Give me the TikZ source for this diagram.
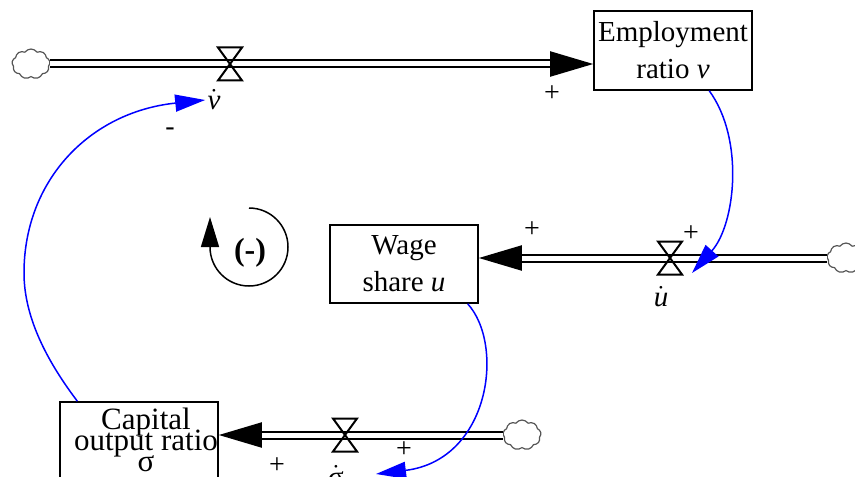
\documentclass[tikz,border=0pt]{standalone}
\usepackage{amsmath}
\usepackage{fontspec}
\setmainfont{Liberation Serif}
\usetikzlibrary{arrows.meta,shapes.symbols}

\definecolor{linkblue}{HTML}{0000FF}
\definecolor{cloudgray}{HTML}{555555}

\newcommand\tightfont{\fontsize{15.5}{10.5}\selectfont\lineskiplimit-20pt\relax\lineskip0pt\relax}

\tikzset{
  valve/.pic={\draw[line width=1pt] (-12,-16.5) -- (12,-16.5) -- (-12,16.5) -- (12,16.5) -- cycle;}
}

\begin{document}
\begin{tikzpicture}[x=0.5pt, y=-0.5pt,
  stock/.style={rectangle, draw, line width=0.8pt, align=center, font=\fontsize{14.5}{18.5}\selectfont, inner sep=0pt},
  source/.style={cloud, cloud puffs=9, cloud puff arc=110, aspect=1.2, draw=cloudgray, line width=0.6pt, minimum width=19pt, minimum height=15pt, inner sep=0pt},
  pipe/.style={double, double distance=2.5pt, line width=1pt, shorten >=21.5pt},
  flowtip/.style={line width=1pt, -{Triangle[length=21.5pt, width=12.5pt]}},
  link/.style={linkblue, line width=0.75pt, -{Triangle[length=15pt, width=8.5pt]}},
  rate/.style={font=\fontsize{14.5}{17}\selectfont, inner sep=1pt},
  sign/.style={font=\fontsize{14}{16}\selectfont, inner sep=0pt}
]
  \useasboundingbox (0,0) rectangle (855,476);
  \clip (0,0) rectangle (855,476);

  % stocks
  \node[stock, minimum width=79pt, minimum height=39.5pt] (emp) at (673,50.5) {Employment\\ratio \textit{v}};
  \node[stock, minimum width=74pt, minimum height=39pt] (wage) at (404,264) {Wage\\share \textit{u}};
  \node[stock, minimum width=79pt, minimum height=44pt] (cap) at (139,446) {};
  \node[font=\tightfont, align=center, inner sep=0pt] (captext) at (146,440) {Capital\\output ratio\\σ};

  % sources
  \node[source] (cloudL) at (31,64) {};
  \node[source] (cloudR) at (846,258) {};
  \node[source] (cloudB) at (522,435) {};

  % flows
  \draw[flowtip] (cloudL.east) -- (cloudL.east -| emp.west);
  \draw[pipe] (cloudL.east) -- (cloudL.east -| emp.west);
  \draw[flowtip] (cloudR.west) -- (cloudR.west -| wage.east);
  \draw[pipe] (cloudR.west) -- (cloudR.west -| wage.east);
  \draw[flowtip] (cloudB.west) -- (cloudB.west -| cap.east);
  \draw[pipe] (cloudB.west) -- (cloudB.west -| cap.east);

  \pic at (230,64) {valve};
  \pic at (670,258) {valve};
  \pic at (345,435) {valve};

  \node[rate] (vdot) at (214,100) {$\dot{\textit{v}}$};
  \node[rate] (udot) at (661,297) {$\dot{\textit{u}}$};
  \node[rate] (sdot) at (336,476) {$\dot{\text{σ}}$};

  % polarities
  \node[sign] (s1) at (552,94) {+};
  \node[sign] (s2) at (170,132) {-};
  \node[sign] (s3) at (532,230) {+};
  \node[sign] (s4) at (691,234) {+};
  \node[sign] (s5) at (404,450) {+};
  \node[sign] (s6) at (277,466) {+};

  % links
  \coordinate (uin) at (692,273);
  \coordinate (sin) at (376,474);
  \coordinate (lbend) at (24,273);
  \draw[link] (emp.-48) .. controls (745,140) and (735,225) .. (uin);
  \draw[link] (wage.-32) .. controls (505,345) and (490,460) .. (sin);
  \draw[link] (cap.144) .. controls (50,365) and (24,320) .. (lbend) .. controls (24,180) and (90,112) .. (vdot.west);

  % loop
  \coordinate (loopc) at (249,247);
  \node[font=\bfseries\fontsize{16}{18}\selectfont, inner sep=0pt] (loop) at (250,253) {(-)};
  \draw[line width=0.75pt, -{Triangle[length=15pt, width=9pt]}] (loopc) ++(0,-39) arc[start angle=90, end angle=-180, radius=19.5pt] -- ++(0,-30);
\end{tikzpicture}
\end{document}
